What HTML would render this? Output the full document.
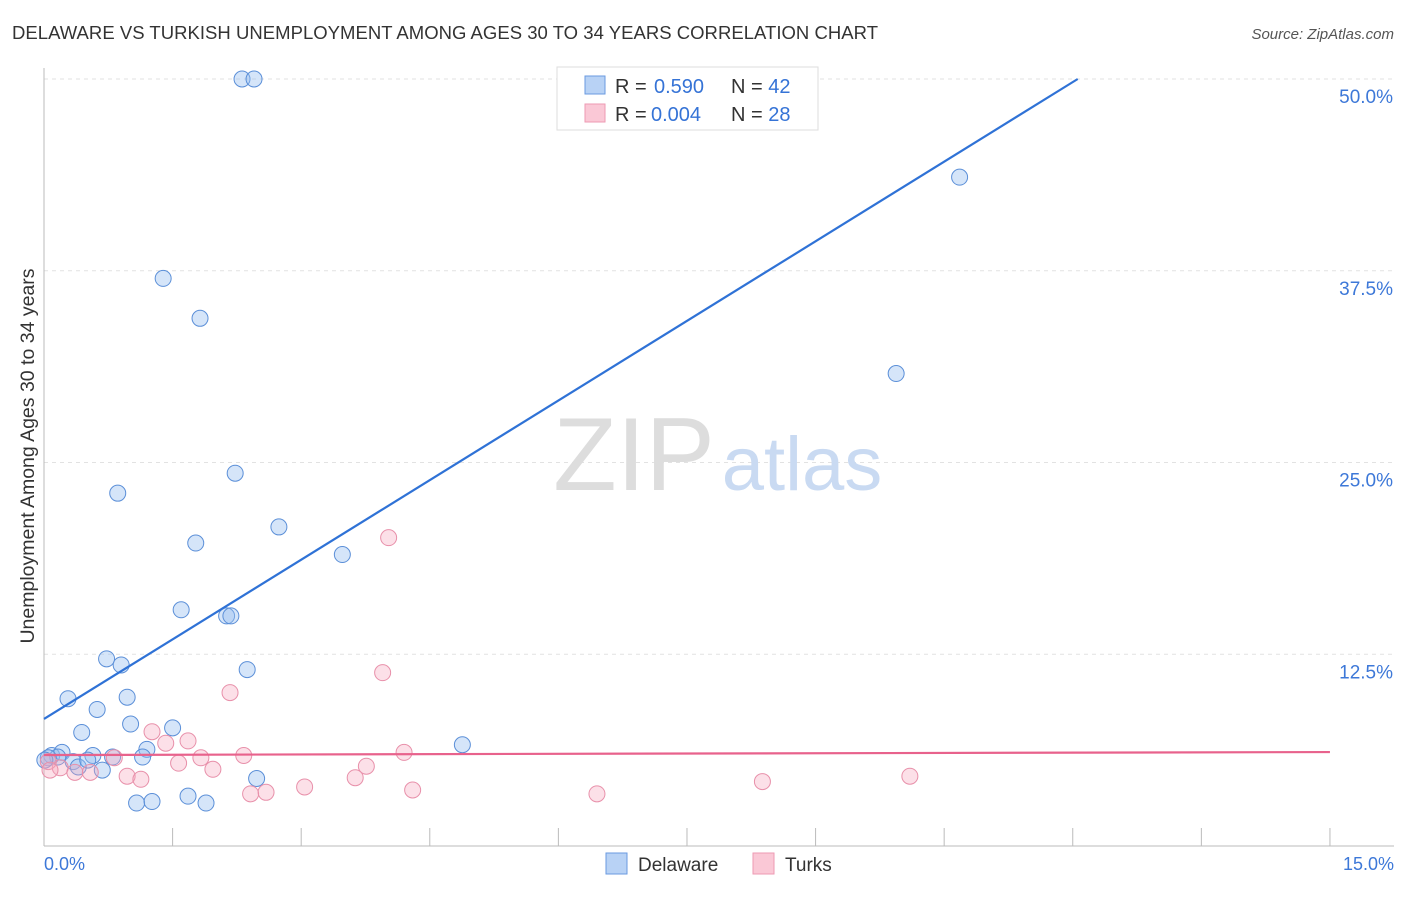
<!DOCTYPE html>
<html><head><meta charset="utf-8"><style>
body{margin:0;background:#fff;font-family:"Liberation Sans",sans-serif}
svg text{font-family:"Liberation Sans",sans-serif}
</style></head><body>
<svg width="1406" height="892" xmlns="http://www.w3.org/2000/svg">
<text x="12" y="39" font-size="18.5" fill="#333" textLength="866">DELAWARE VS TURKISH UNEMPLOYMENT AMONG AGES 30 TO 34 YEARS CORRELATION CHART</text>
<text x="1394" y="39" font-size="15" fill="#555" text-anchor="end" font-style="italic">Source: ZipAtlas.com</text>
<g id="grid"></g>
<g><text x="634" y="490" font-size="104" font-family="Liberation Serif" fill="#ddd" text-anchor="middle">ZIP</text><text x="802" y="490" font-size="76" fill="#c9daf2" text-anchor="middle">atlas</text></g>
<g id="axes"></g>
<g id="pts"></g>
<g id="lines"></g>
<text x="34" y="456" font-size="19.5" fill="#333" text-anchor="middle" transform="rotate(-90 34 456)">Unemployment Among Ages 30 to 34 years</text>
<g>
<rect x="557" y="67" width="261" height="63" fill="#fff" stroke="#ddd"/>
<rect x="585" y="76" width="20" height="18" fill="#b8d2f5" stroke="#6a9ae0"/>
<rect x="585" y="104" width="20" height="18" fill="#fac8d6" stroke="#ee9ab3"/>
<text x="615" y="93" font-size="20" fill="#333">R = <tspan x="654" fill="#3573d6">0.590</tspan><tspan x="731">N = </tspan><tspan fill="#3573d6">42</tspan></text>
<text x="615" y="121" font-size="20" fill="#333">R = <tspan x="651" fill="#3573d6">0.004</tspan><tspan x="731">N = </tspan><tspan fill="#3573d6">28</tspan></text>
</g>
<g>
<rect x="606" y="853" width="21" height="21" fill="#b8d2f5" stroke="#6a9ae0"/>
<text x="638" y="871" font-size="19" fill="#333">Delaware</text>
<rect x="753" y="853" width="21" height="21" fill="#fac8d6" stroke="#ee9ab3"/>
<text x="785" y="871" font-size="19" fill="#333">Turks</text>
</g>
</svg>
<script>
const yTicks=[12.5,25,37.5,50];
const yTickLabels=["12.5%","25.0%","37.5%","50.0%"];
const xTickLabels=["0.0%","15.0%"];
const delX=[2.31,2.45,10.68,1.39,1.82,9.94,2.23,0.86,2.74,1.77,3.48,1.60,2.13,2.18,0.73,0.90,2.37,0.28,0.97,0.62,1.01,1.50,0.44,4.88,1.20,0.09,0.21,0.57,1.15,0.80,0.16,0.34,0.40,0.68,2.48,1.08,1.26,1.68,1.89,0.05,0.51,0.01];
const delY=[50,50,43.6,37.0,34.4,30.8,24.3,23.0,20.8,19.75,19.0,15.4,15.0,15.0,12.2,11.8,11.5,9.6,9.7,8.9,7.95,7.7,7.4,6.6,6.3,5.9,6.1,5.9,5.8,5.8,5.8,5.5,5.15,4.95,4.4,2.8,2.9,3.25,2.8,5.75,5.6,5.6];
const turX=[4.02,3.95,2.17,1.26,1.42,1.68,4.20,2.33,1.83,0.82,1.57,3.76,1.97,0.97,1.13,3.63,10.10,8.38,3.04,2.59,2.41,4.30,6.45,0.19,0.36,0.54,0.05,0.07];
const turY=[20.1,11.3,10.0,7.45,6.7,6.85,6.1,5.9,5.75,5.75,5.4,5.2,5.0,4.55,4.35,4.45,4.55,4.2,3.85,3.5,3.4,3.65,3.4,5.1,4.8,4.8,5.5,4.95];
const delLine=[8.28,3.46];
const turLine=[5.93,0.013];
const X=v=>44+v*85.73, Y=v=>846-v*15.34;
const NS="http://www.w3.org/2000/svg";
function mk(t,a,p){const e=document.createElementNS(NS,t);for(const k in a)e.setAttribute(k,a[k]);p.appendChild(e);return e;}
const grid=document.getElementById('grid'),axes=document.getElementById('axes');
yTicks.forEach((t,i)=>{
 const l=mk('line',{x1:44,x2:1394,y1:Y(t),y2:Y(t),stroke:'#e2e2e2','stroke-dasharray':'4,4'},grid);
 
 
 const tx=mk('text',{x:1393,y:Y(t)+24,'font-size':19,fill:'#3d78d8','text-anchor':'end'},axes);
 tx.textContent=yTickLabels[i];
 
 
});
mk('line',{x1:44,x2:44,y1:68,y2:846,stroke:'#bbb'},axes);
mk('line',{x1:44,x2:1394,y1:846,y2:846,stroke:'#bbb'},axes);
for(let i=1;i<=10;i++){mk('line',{x1:X(i*1.5),x2:X(i*1.5),y1:828,y2:846,stroke:'#bbb'},axes);}
[[0,'start',44],[15,'end',1394]].forEach((d,i)=>{const tx=mk('text',{x:d[2],y:870,'font-size':18,fill:'#3d78d8','text-anchor':d[1]},axes);tx.textContent=xTickLabels[i];
 
 });
const pts=document.getElementById('pts');
delX.forEach((v,i)=>{const c=mk('circle',{cx:X(v),cy:Y(delY[i]),r:8,fill:'rgba(150,190,240,0.4)',stroke:'#5b8fd8','stroke-width':1},pts);
 
 });
turX.forEach((v,i)=>{const c=mk('circle',{cx:X(v),cy:Y(turY[i]),r:8,fill:'rgba(245,165,190,0.35)',stroke:'#e890aa','stroke-width':1},pts);
 
 });
const lines=document.getElementById('lines');
const xe=(50-delLine[0])/delLine[1];
const l1=mk('line',{x1:X(0),y1:Y(delLine[0]),x2:X(xe),y2:Y(50),stroke:'#2f72d6','stroke-width':2.2},lines);


const l2=mk('line',{x1:X(0),y1:Y(turLine[0]),x2:X(15),y2:Y(turLine[0]+15*turLine[1]),stroke:'#e8628c','stroke-width':2.2},lines);


</script>
</body></html>
